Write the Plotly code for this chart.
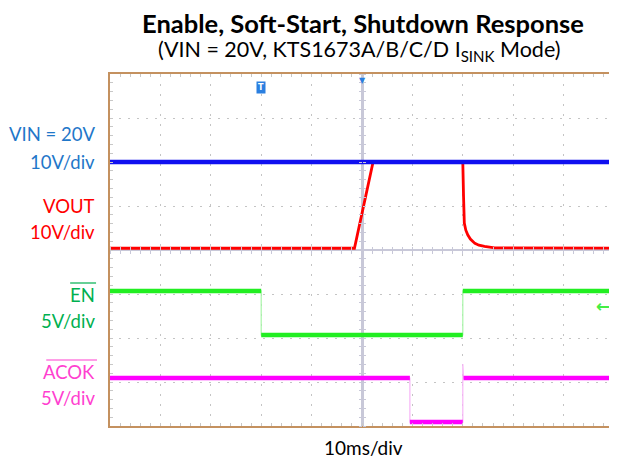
import plotly.graph_objects as go

# ---- data (time in ms, 10 ms/div; amplitude in screen divisions, centre = 0) ----
t_vin = [-50, 50]
v_vin = [2.0, 2.0]

t_vout = [-50, -1.5, 2.2, 20.0, 20.15, 20.3, 20.6, 21.0, 21.5, 22.4, 23.2, 24.3, 26.3, 50]
v_vout = [0.04, 0.04, 2.0, 2.0, 1.2, 0.61, 0.45, 0.34, 0.25, 0.15, 0.11, 0.08, 0.05, 0.04]

t_en = [-50, -20, -20, 20, 20, 50]
v_en = [-0.93, -0.93, -1.93, -1.93, -0.93, -0.93]

t_acok = [-50, 9.5, 9.5, 20, 20, 20.15, 50]
v_acok = [-2.91, -2.91, -3.91, -3.91, -2.59, -2.91, -2.91]

labels = [
    ("VIN = 20V", 134, "#1F77C9"),
    ("10V/div", 162, "#1F77C9"),
    ("VOUT", 206, "#FF0000"),
    ("10V/div", 232, "#FF0000"),
    ("EN", 295, "#00B050"),
    ("5V/div", 321, "#00B050"),
    ("ACOK", 372, "#FF3FD0"),
    ("5V/div", 398, "#FF3FD0"),
]

# ---- geometry helpers (page pixel -> paper); page body has an 8px margin ----
OFF = 8
W, H = 617 - OFF, 460 - OFF
PL, PR, PT, PB = 110, 616, 74, 426
def px(x):
    return (x - PL) / (PR - PL)
def py(y):
    return (PB - y) / (PB - PT)

def levels(t, v):
    """keep only the flat (level) parts of a step trace"""
    xs, ys = [], []
    for i in range(len(t)):
        if i > 0 and v[i] != v[i - 1]:
            xs.append(None); ys.append(None)
        xs.append(t[i]); ys.append(v[i])
    return xs, ys

FONT = "Lato"
fig = go.Figure()

fig.add_trace(go.Scatter(x=t_vout, y=v_vout, mode="lines",
                         line=dict(color="#FF0000", width=2.8), hoverinfo="skip"))
fig.add_trace(go.Scatter(x=t_vin, y=v_vin, mode="lines",
                         line=dict(color="#1010F0", width=4.5), hoverinfo="skip"))

for t, v, thin, thick in [(t_en, v_en, "#A8F5A8", "#22EE22"),
                          (t_acok, v_acok, "#F7B5F7", "#FF00FF")]:
    fig.add_trace(go.Scatter(x=t, y=v, mode="lines",
                             line=dict(color=thin, width=1.2), hoverinfo="skip"))
    xs, ys = levels(t, v)
    fig.add_trace(go.Scatter(x=xs, y=ys, mode="lines", connectgaps=False,
                             line=dict(color=thick, width=4.5), hoverinfo="skip"))

# empty traces for the centre crosshair tick axes
fig.add_trace(go.Scatter(x=[None], y=[None], xaxis="x2", yaxis="y2", showlegend=False))
fig.add_trace(go.Scatter(x=[None], y=[None], xaxis="x3", yaxis="y3", showlegend=False))

BORDER = "#C4915F"
GRID = "#C4C4C4"
TICK = "#C8C8C8"
CENTER = "#C8C8D8"

fig.update_layout(
    width=W, height=H,
    margin=dict(l=PL - OFF, r=617 - PR, t=PT - OFF, b=460 - PB),
    paper_bgcolor="white", plot_bgcolor="white",
    showlegend=False,
    xaxis=dict(range=[-50, 50], dtick=10, showgrid=True, gridcolor=GRID,
               griddash="2px,8px", gridwidth=1,
               zeroline=True, zerolinecolor=CENTER, zerolinewidth=2.5,
               showline=True, linecolor=BORDER, linewidth=1.6, mirror="allticks",
               ticks="inside", ticklen=3, tickcolor=TICK, showticklabels=False,
               minor=dict(dtick=2, ticks="inside", ticklen=3, tickcolor=TICK, showgrid=False),
               fixedrange=True),
    yaxis=dict(range=[-4, 4], dtick=1, showgrid=True, gridcolor=GRID,
               griddash="2px,7px", gridwidth=1,
               zeroline=True, zerolinecolor=CENTER, zerolinewidth=1.5,
               showline=True, linecolor=BORDER, linewidth=1.6, mirror="allticks",
               ticks="inside", ticklen=3, tickcolor=TICK, showticklabels=False,
               minor=dict(dtick=0.2, ticks="inside", ticklen=3, tickcolor=TICK, showgrid=False),
               fixedrange=True),
    xaxis2=dict(overlaying="x", anchor="free", position=0.5, side="bottom",
                range=[-50, 50], dtick=2, ticks="outside", ticklen=3, tickcolor=CENTER,
                showgrid=False, zeroline=False, showline=False, showticklabels=False),
    yaxis2=dict(overlaying="y", anchor="free", position=0.5, side="left",
                range=[-4, 4], dtick=0.2, ticks="outside", ticklen=3, tickcolor=CENTER,
                showgrid=False, zeroline=False, showline=False, showticklabels=False),
    xaxis3=dict(overlaying="x", anchor="free", position=0.5, side="top",
                range=[-50, 50], dtick=2, ticks="outside", ticklen=3, tickcolor=CENTER,
                showgrid=False, zeroline=False, showline=False, showticklabels=False),
    yaxis3=dict(overlaying="y", anchor="free", position=0.5, side="right",
                range=[-4, 4], dtick=0.2, ticks="outside", ticklen=3, tickcolor=CENTER,
                showgrid=False, zeroline=False, showline=False, showticklabels=False),
)

ann = []
ann.append(dict(text="<b>Enable, Soft-Start, Shutdown Response</b>", xref="paper", yref="paper",
                x=px(364), y=py(23), xanchor="center", yanchor="middle", showarrow=False,
                font=dict(family=FONT, size=25.5, color="black")))
ann.append(dict(text="(VIN = 20V, KTS1673A/B/C/D I<sub>SINK</sub> Mode)", xref="paper", yref="paper",
                x=px(360), y=py(50), xanchor="center", yanchor="middle", showarrow=False,
                font=dict(family=FONT, size=21.5, color="black")))
ann.append(dict(text="10ms/div", xref="paper", yref="paper",
                x=px(365), y=py(447), xanchor="center", yanchor="middle", showarrow=False,
                font=dict(family=FONT, size=19, color="black")))
for txt, yp, col in labels:
    ann.append(dict(text=txt, xref="paper", yref="paper", x=px(97), y=py(yp),
                    xanchor="right", yanchor="middle", showarrow=False,
                    font=dict(family=FONT, size=18.5, color=col)))
# trigger marker, horizontal position marker, EN ground marker
ann.append(dict(text="<b>T</b>", xref="x", yref="paper", x=-20, y=py(87),
                xanchor="center", yanchor="middle", showarrow=False,
                font=dict(family="DejaVu Sans", size=8, color="white"),
                bgcolor="#2A7FE0", borderpad=1))
ann.append(dict(text="▼", xref="x", yref="paper", x=0, y=1.0,
                xanchor="center", yanchor="top", showarrow=False,
                font=dict(family="DejaVu Sans", size=8, color="#2A7FE0")))
ann.append(dict(text="<b>←</b>", xref="paper", yref="paper", x=0.997, y=py(306),
                xanchor="right", yanchor="middle", showarrow=False,
                font=dict(family="DejaVu Sans", size=17, color="#44EE44")))
fig.update_layout(annotations=ann)

# overlines for EN and ACOK
fig.add_shape(type="line", xref="paper", yref="paper", x0=px(70), x1=px(96),
              y0=py(283), y1=py(283), line=dict(color="#00B050", width=1.2))
fig.add_shape(type="line", xref="paper", yref="paper", x0=px(46), x1=px(97),
              y0=py(360), y1=py(360), line=dict(color="#FF3FD0", width=1.2))

fig.write_html("out.html")
